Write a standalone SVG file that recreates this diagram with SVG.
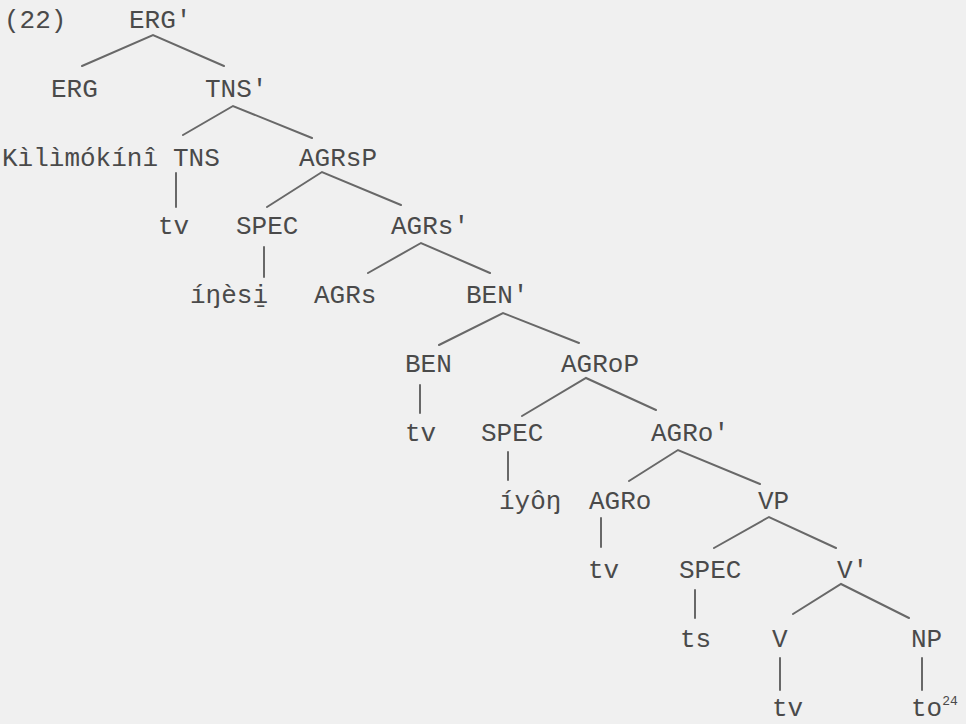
<svg xmlns="http://www.w3.org/2000/svg" width="966" height="724" viewBox="0 0 966 724">
<style>
.t { font-family: "Liberation Mono", "Courier New", monospace; font-size: 26px; fill: #4a4a4a; }
.sup { font-size: 13px; }
.e { stroke: #686868; stroke-width: 2; fill: none; stroke-linecap: round; }
</style>
<rect x="0" y="0" width="966" height="724" fill="#f0f0f0"/>
<g id="connectors">
  <polyline class="e" points="82,66 153,35 224,66"/>
  <polyline class="e" points="183,135 233,106 312,138"/>
  <line class="e" x1="176" y1="173" x2="176" y2="207"/>
  <polyline class="e" points="267,207 322,172 401,205"/>
  <line class="e" x1="264" y1="247" x2="264" y2="277"/>
  <polyline class="e" points="368,273 421,243 490,273"/>
  <polyline class="e" points="439,345 503,313 579,343"/>
  <line class="e" x1="420" y1="385" x2="420" y2="413"/>
  <polyline class="e" points="522,416 586,378 656,410"/>
  <line class="e" x1="508" y1="452" x2="508" y2="480"/>
  <polyline class="e" points="629,481 678,450 760,484"/>
  <line class="e" x1="601" y1="518" x2="601" y2="547"/>
  <polyline class="e" points="714,548 769,517 836,548"/>
  <line class="e" x1="695" y1="590" x2="695" y2="618"/>
  <polyline class="e" points="793,614 841,584 909,618"/>
  <line class="e" x1="780" y1="658" x2="780" y2="690"/>
  <line class="e" x1="922" y1="658" x2="922" y2="690"/>
</g>
<g id="n-ex22"><text class="t" x="4" y="28">(22)</text></g>
<g id="n-ergbar"><text class="t" x="129" y="28">ERG'</text></g>
<g id="n-erg"><text class="t" x="51" y="97">ERG</text></g>
<g id="n-tnsbar"><text class="t" x="205" y="97">TNS'</text></g>
<g id="n-kilimokini"><text class="t" x="2" y="166">Kìlìmókínî</text></g>
<g id="n-tns"><text class="t" x="173" y="166">TNS</text></g>
<g id="n-agrsp"><text class="t" x="299" y="166">AGRsP</text></g>
<g id="n-tv1"><text class="t" x="158" y="234">tv</text></g>
<g id="n-spec1"><text class="t" x="236" y="234">SPEC</text></g>
<g id="n-agrsbar"><text class="t" x="391" y="234">AGRs'</text></g>
<g id="n-inesi"><text class="t" x="190" y="303">íŋèsi̱</text></g>
<g id="n-agrs"><text class="t" x="314" y="303">AGRs</text></g>
<g id="n-benbar"><text class="t" x="466" y="303">BEN'</text></g>
<g id="n-ben"><text class="t" x="405" y="372">BEN</text></g>
<g id="n-agrop"><text class="t" x="561" y="372">AGRoP</text></g>
<g id="n-tv2"><text class="t" x="405" y="441">tv</text></g>
<g id="n-spec2"><text class="t" x="481" y="441">SPEC</text></g>
<g id="n-agrobar"><text class="t" x="651" y="441">AGRo'</text></g>
<g id="n-iyon"><text class="t" x="499" y="509">íyôŋ</text></g>
<g id="n-agro"><text class="t" x="589" y="509">AGRo</text></g>
<g id="n-vp"><text class="t" x="758" y="509">VP</text></g>
<g id="n-tv3"><text class="t" x="588" y="578">tv</text></g>
<g id="n-spec3"><text class="t" x="679" y="578">SPEC</text></g>
<g id="n-vbar"><text class="t" x="837" y="578">V'</text></g>
<g id="n-ts"><text class="t" x="680" y="647">ts</text></g>
<g id="n-v"><text class="t" x="772" y="647">V</text></g>
<g id="n-np"><text class="t" x="911" y="647">NP</text></g>
<g id="n-tv4"><text class="t" x="772" y="716">tv</text></g>
<g id="n-to"><text class="t" x="911" y="716">to<tspan class="sup" dy="-11">24</tspan></text></g>
</svg>
